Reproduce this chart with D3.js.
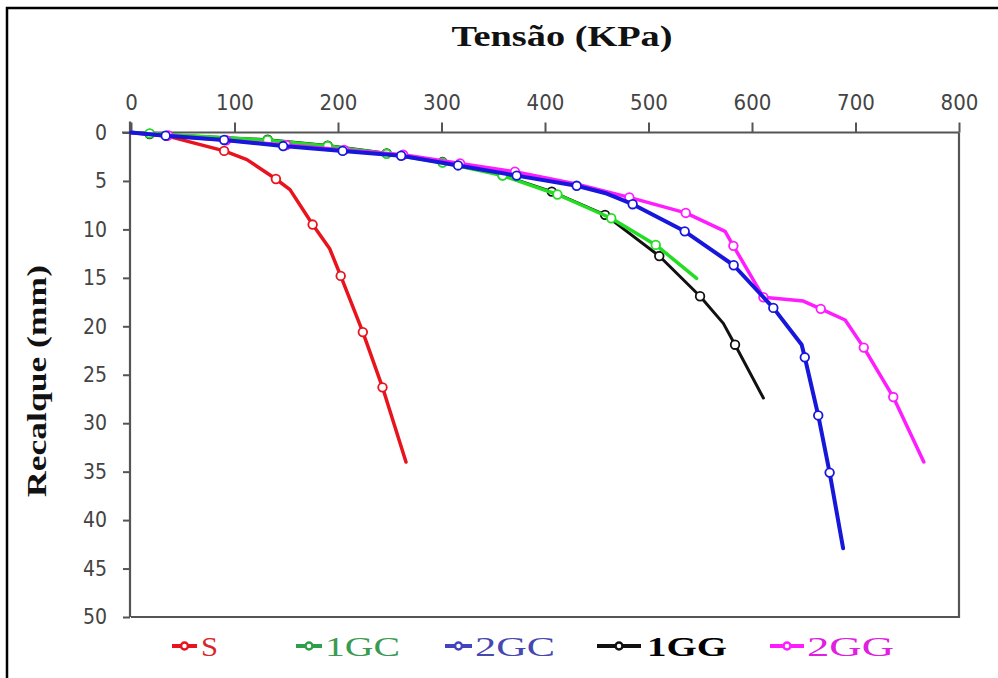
<!DOCTYPE html>
<html>
<head>
<meta charset="utf-8">
<script src="https://cdn.jsdelivr.net/npm/d3@7"></script>
<style>
  html, body { margin: 0; padding: 0; background: #fff; }
  svg { display: block; }
</style>
</head>
<body>
<svg id="chart" width="998" height="678"></svg>
<script>
// ---------------- DATA ----------------
const xTicks = [0, 100, 200, 300, 400, 500, 600, 700, 800];
const yTicks = [0, 5, 10, 15, 20, 25, 30, 35, 40, 45, 50];
const titleX = "Tensão (KPa)";
const titleY = "Recalque (mm)";
const seriesNames = ["S", "1GC", "2GC", "1GG", "2GG"];

const tensaoS = [0, 34.5, 90, 112, 140, 153.6, 175.5, 192, 202.6, 224, 243, 265.7];
const recalqueS = [0, 0.35, 1.9, 2.8, 4.8, 5.9, 9.5, 12, 14.8, 20.6, 26.3, 34];
const markersS = [1, 2, 4, 6, 8, 9, 10];

const tensao1GC = [0, 18, 132, 190, 247, 301, 359, 412, 464, 507, 546.5];
const recalque1GC = [0, 0.1, 0.8, 1.4, 2.2, 3.1, 4.45, 6.4, 8.85, 11.6, 15.05];
const markers1GC = [1, 2, 3, 4, 5, 6, 7, 8, 9];

const tensao2GC = [0, 33.5, 90, 147, 204.5, 261, 316, 372.6, 430.6, 459.6, 484.7, 535, 582.3, 620.6, 648, 651, 664, 675, 688];
const recalque2GC = [0, 0.33, 0.77, 1.4, 1.9, 2.4, 3.4, 4.45, 5.5, 6.3, 7.4, 10.2, 13.7, 18.1, 21.9, 23.2, 29.2, 35.1, 42.9];
const markers2GC = [1, 2, 3, 4, 5, 6, 7, 8, 10, 11, 12, 13, 15, 16, 17];

const tensao1GG = [0, 18, 132, 190, 247, 301, 359, 406.5, 458, 510.4, 549.8, 572.3, 583.6, 611];
const recalque1GG = [0, 0.15, 0.75, 1.35, 2.15, 3.05, 4.4, 6.1, 8.5, 12.75, 16.9, 19.7, 21.9, 27.4];
const markers1GG = [1, 2, 3, 4, 5, 6, 7, 8, 9, 10, 12];

const tensao2GG = [0, 36, 92, 150, 206, 263, 318, 371, 430, 481.5, 536, 574, 582, 611, 649.6, 666.4, 690, 708, 736.5, 766];
const recalque2GG = [0, 0.3, 0.8, 1.3, 1.8, 2.3, 3.2, 4.05, 5.3, 6.7, 8.3, 10.2, 11.7, 17, 17.4, 18.2, 19.35, 22.2, 27.3, 34];
const markers2GG = [1, 2, 3, 4, 5, 6, 7, 9, 10, 12, 13, 15, 17, 18];

// ---------------- STYLE / LAYOUT ----------------
const styles = {
  "S":   { line: "#e8131c", text: "#d9262c", width: 3.5 },
  "1GC": { line: "#22dd22", text: "#3a9a52", width: 3.5, legendLine: "#2e9e4a" },
  "2GC": { line: "#1717dc", text: "#4747b0", width: 4, legendLine: "#4343c0" },
  "1GG": { line: "#111111", text: "#000000", width: 3, bold: true },
  "2GG": { line: "#ff1cff", text: "#e020e0", width: 3.5 }
};
const legendLayout = {
  "S":   { x0: 172, x1: 197, tx: 201, tw: 17 },
  "1GC": { x0: 296, x1: 322, tx: 325, tw: 75 },
  "2GC": { x0: 445, x1: 472, tx: 475, tw: 80 },
  "1GG": { x0: 597, x1: 641, tx: 647, tw: 80 },
  "2GG": { x0: 770, x1: 804, tx: 807, tw: 87 }
};

const series = {
  "S":   { t: tensaoS, r: recalqueS, m: markersS },
  "1GC": { t: tensao1GC, r: recalque1GC, m: markers1GC },
  "2GC": { t: tensao2GC, r: recalque2GC, m: markers2GC },
  "1GG": { t: tensao1GG, r: recalque1GG, m: markers1GG },
  "2GG": { t: tensao2GG, r: recalque2GG, m: markers2GG }
};
const drawOrder = ["S", "1GG", "1GC", "2GG", "2GC"];

const svg = d3.select("#chart");

// outer frame
svg.append("rect").attr("x", 7).attr("y", 8).attr("width", 1010).attr("height", 700)
  .attr("fill", "#fff").attr("stroke", "#000").attr("stroke-width", 2.5);

const x = d3.scaleLinear().domain([0, 800]).range([131, 959]);
const y = d3.scaleLinear().domain([0, 50]).range([132.5, 617]);

// plot frame (right & bottom)
svg.append("path")
  .attr("d", `M${x(0)},${y(50)}H${x(800)}V${y(0)}`)
  .attr("fill", "none").attr("stroke", "#555").attr("stroke-width", 2.2);

// top axis
const gx = svg.append("g").attr("transform", `translate(0,${y(0)})`)
  .call(d3.axisTop(x).tickValues(xTicks).tickSize(10).tickSizeOuter(0).tickPadding(13).tickFormat(d3.format("d")));
// left axis
const gy = svg.append("g").attr("transform", `translate(${x(0) - 1},0)`)
  .call(d3.axisLeft(y).tickValues(yTicks).tickSize(7).tickSizeOuter(0).tickPadding(16).tickFormat(d3.format("d")));

[gx, gy].forEach(g => {
  g.select(".domain").attr("stroke", "#555").attr("stroke-width", 2.2);
  g.selectAll(".tick line").attr("stroke", "#555").attr("stroke-width", 2);
  g.selectAll(".tick text").attr("fill", "#444")
    .style("font-family", "'DejaVu Sans Condensed', 'DejaVu Sans', Verdana, sans-serif")
    .style("font-stretch", "condensed");
});
gx.selectAll(".tick text").style("font-size", "22px");
gy.selectAll(".tick text").style("font-size", "21px");
// extend domain lines slightly beyond the origin like the reference
gx.select(".domain").attr("d", `M${x(0) - 9},0H${x(800)}`);
gy.select(".domain").attr("d", `M0,${y(0) - 11}V${y(50)}`);

// series lines
const plot = svg.append("g");
drawOrder.forEach(name => {
  const s = series[name];
  const st = styles[name];
  const pts = s.t.map((t, i) => [t, s.r[i]]);
  const line = d3.line().x(d => x(d[0])).y(d => y(d[1]));
  plot.append("path").datum(pts).attr("d", line)
    .attr("fill", "none").attr("stroke", st.line).attr("stroke-width", st.width)
    .attr("stroke-linejoin", "round").attr("stroke-linecap", "round");
  plot.selectAll(null).data(s.m.map(i => pts[i])).enter().append("circle")
    .attr("cx", d => x(d[0])).attr("cy", d => y(d[1])).attr("r", 4.3)
    .attr("fill", "#fff").attr("stroke", st.line).attr("stroke-width", 1.8);
});

// titles
svg.append("text").text(titleX)
  .attr("x", 562).attr("y", 46).attr("text-anchor", "middle")
  .attr("textLength", 221).attr("lengthAdjust", "spacingAndGlyphs")
  .style("font-family", "'Liberation Serif', 'Times New Roman', serif")
  .style("font-weight", "bold").style("font-size", "29px").attr("fill", "#111");

svg.append("text").text(titleY)
  .attr("transform", "translate(46,381) rotate(-90)").attr("text-anchor", "middle")
  .attr("textLength", 232).attr("lengthAdjust", "spacingAndGlyphs")
  .style("font-family", "'Liberation Serif', 'Times New Roman', serif")
  .style("font-weight", "bold").style("font-size", "28px").attr("fill", "#111");

// legend
const ly = 646;
seriesNames.forEach(name => {
  const L = legendLayout[name];
  const st = styles[name];
  const col = st.legendLine || st.line;
  const g = svg.append("g");
  const cx = (L.x0 + L.x1) / 2;
  g.append("line").attr("x1", L.x0).attr("x2", L.x1).attr("y1", ly).attr("y2", ly)
    .attr("stroke", col).attr("stroke-width", 4);
  g.append("circle").attr("cx", cx).attr("cy", ly).attr("r", 3.5)
    .attr("fill", "#fff").attr("stroke", col).attr("stroke-width", 2.5);
  g.append("text").text(name).attr("x", L.tx).attr("y", ly + 10)
    .attr("textLength", L.tw).attr("lengthAdjust", "spacingAndGlyphs")
    .style("font-family", "'Liberation Serif', 'Times New Roman', serif")
    .style("font-size", "28px").style("font-weight", st.bold ? "bold" : "normal")
    .attr("fill", st.text);
});
</script>
</body>
</html>
